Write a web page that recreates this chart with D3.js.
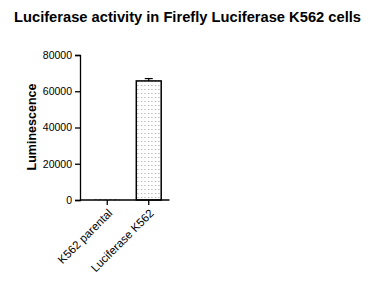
<!DOCTYPE html>
<html>
<head>
<meta charset="utf-8">
<script src="https://cdn.jsdelivr.net/npm/d3@7"></script>
<style>
  body { margin: 0; background: #fff; }
  text { font-family: "Liberation Sans", Arial, sans-serif; }
</style>
</head>
<body>
<div class="canvas"></div>
<script>
const categories = ['K562 parental', 'Luciferase K562'];
const means = [300, 65700];
const errors = [0, 1300];
const yTicks = [0, 20000, 40000, 60000, 80000];

const dims = {width: 368, height: 289};

const svg = d3.select('.canvas')
    .append('svg')
    .attr('width', dims.width)
    .attr('height', dims.height);

// dotted fill like GraphPad
const pat = svg.append('defs').append('pattern')
    .attr('id', 'dots')
    .attr('patternUnits', 'userSpaceOnUse')
    .attr('width', 3.5)
    .attr('height', 4);
pat.append('rect').attr('width', 3.5).attr('height', 4).attr('fill', '#fff');
pat.append('rect').attr('x', 1).attr('y', 1).attr('width', 1).attr('height', 1).attr('fill', '#999');

const y = d3.scaleLinear().domain([0, 80000]).range([200, 55]);
const x = d3.scaleBand()
    .domain(categories)
    .range([86.5, 169.5])
    .paddingInner(0.4)
    .paddingOuter(0.2);

// title
svg.append('text')
    .attr('x', 187.5)
    .attr('y', 22)
    .attr('text-anchor', 'middle')
    .attr('font-size', 14.7)
    .attr('font-weight', 'bold')
    .text('Luciferase activity in Firefly Luciferase K562 cells');

// bars
svg.selectAll('rect.bar')
    .data(means)
    .enter().append('rect')
    .attr('class', 'bar')
    .attr('x', (d, i) => x(categories[i]))
    .attr('width', x.bandwidth())
    .attr('y', d => y(d))
    .attr('height', d => y(0) - y(d))
    .attr('fill', 'url(#dots)')
    .attr('stroke', d => (y(0) - y(d)) > 2 ? '#000' : '#999')
    .attr('stroke-dasharray', d => (y(0) - y(d)) > 2 ? null : '2,3')
    .attr('stroke-width', d => (y(0) - y(d)) > 2 ? 1.5 : 1);

// error bars (upper only)
const eb = svg.append('g').attr('stroke', '#000').attr('stroke-width', 1.2);
means.forEach((m, i) => {
    if (!errors[i]) return;
    const cx = x(categories[i]) + x.bandwidth() / 2;
    eb.append('line').attr('x1', cx).attr('x2', cx).attr('y1', y(m)).attr('y2', y(m + errors[i]));
    eb.append('line').attr('x1', cx - 4).attr('x2', cx + 4).attr('y1', y(m + errors[i])).attr('y2', y(m + errors[i]));
});

// y axis
const yAxis = svg.append('g')
    .attr('transform', 'translate(80,0)')
    .call(d3.axisLeft(y).tickValues(yTicks).tickSize(5).tickPadding(3).tickFormat(d3.format('d')));
yAxis.select('.domain').attr('stroke-width', 1.3);
yAxis.selectAll('.tick line').attr('stroke-width', 1.3);
yAxis.selectAll('text').attr('font-size', 10.5).attr('font-family', '"Liberation Sans", Arial, sans-serif');

// x axis
const xAxis = svg.append('g')
    .attr('transform', 'translate(0,200)')
    .call(d3.axisBottom(x).tickSize(5).tickSizeOuter(0));
xAxis.select('.domain').attr('d', 'M80,0H169.5').attr('stroke-width', 1.3);
xAxis.selectAll('.tick line').attr('stroke-width', 1.3);
xAxis.selectAll('text')
    .attr('font-size', 11.5)
    .attr('font-family', '"Liberation Sans", Arial, sans-serif')
    .attr('text-anchor', 'end')
    .attr('x', 0)
    .attr('y', 0)
    .attr('dy', '0.35em')
    .attr('transform', 'translate(3,11) rotate(-45)');

// y label
svg.append('text')
    .attr('transform', 'translate(36,127) rotate(-90)')
    .attr('text-anchor', 'middle')
    .attr('font-size', 12.5)
    .attr('font-weight', 'bold')
    .text('Luminescence');
</script>
</body>
</html>
